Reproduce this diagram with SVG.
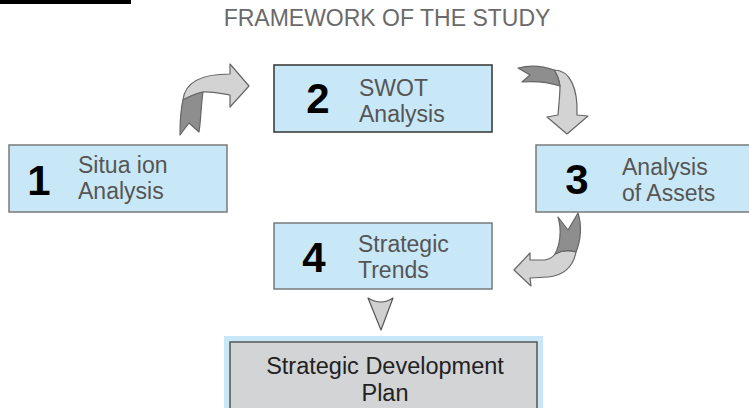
<svg xmlns="http://www.w3.org/2000/svg" width="749" height="408" viewBox="0 0 749 408">
<style>
.box{fill:#c9e8f7;stroke:#7a7a7a;stroke-width:1.5}
.box.dark{stroke:#333}
.num{font-family:"Liberation Sans",Arial,sans-serif;font-weight:bold;font-size:42px;fill:#000;text-anchor:middle}
.lbl{font-family:"Liberation Sans",Arial,sans-serif;font-size:23px;fill:#555}
.plan{font-family:"Liberation Sans",Arial,sans-serif;font-size:23.5px;fill:#222;text-anchor:middle}
.light{fill:#d3d3d3;stroke:#666;stroke-width:1.2;stroke-linejoin:round}
.shade{fill:#8e8e8e;stroke:#666;stroke-width:1.2;stroke-linejoin:round}
</style>
<rect width="749" height="408" fill="#fff"/>
<rect x="0" y="0" width="131" height="4" fill="#000"/>
<text x="387" y="26" text-anchor="middle" font-family="Liberation Sans, Arial, sans-serif" font-size="23" fill="#6a6a6a">FRAMEWORK OF THE STUDY</text>

<g id="node1">
<rect class="box" x="9" y="145" width="218" height="67"/>
<text class="num" x="39" y="195">1</text>
<text class="lbl" x="78" y="173">Situa ion</text>
<text class="lbl" x="78" y="199">Analysis</text>
</g>
<g id="node2">
<rect class="box dark" x="274" y="65" width="218" height="67"/>
<text class="num" x="318" y="113">2</text>
<text class="lbl" x="359" y="96">SWOT</text>
<text class="lbl" x="359" y="122">Analysis</text>
</g>
<g id="node3">
<rect class="box" x="536" y="145" width="224" height="67"/>
<text class="num" x="577" y="194">3</text>
<text class="lbl" x="622" y="175">Analysis</text>
<text class="lbl" x="622" y="201">of Assets</text>
</g>
<g id="node4">
<rect class="box" x="274" y="223" width="218" height="66"/>
<text class="num" x="314" y="272">4</text>
<text class="lbl" x="358" y="252">Strategic</text>
<text class="lbl" x="358" y="278">Trends</text>
</g>
<g id="plan">
<rect x="224" y="336" width="319" height="80" fill="#c9e8f7"/>
<rect x="230" y="342" width="307" height="74" fill="#d3d4d6" stroke="#555" stroke-width="1.5"/>
<text class="plan" x="385" y="374">Strategic Development</text>
<text class="plan" x="385" y="401">Plan</text>
</g>

<g id="connectors">
<g id="arrow1-2">
<path class="light" d="M183,100 C185,80 205,74 230,74 L230,64 L249,86 L230,107 L230,95 C218,93 208,91 203,92 C195,94 188,97 183,100 Z"/>
<path class="shade" d="M183,100 C188,97 195,94 203,92 C201,105 201,120 199,132 L189,123 L180,135 C180,120 181,108 183,100 Z"/>
</g>
<g id="arrow2-3">
<path class="light" d="M554,70 C570,70 578,88 577,115 L588,116 L567,134 L547,117 L558,115 C559,103 560,94 560,86 C559,80 557,74 554,70 Z"/>
<path class="shade" d="M518,68 C530,65 543,66 554,70 C557,74 559,80 560,86 C548,82 535,81 522,82 L530,75 Z"/>
</g>
<g id="arrow3-4">
<path class="light" d="M555,254 C562,250 570,250 576,252 C573,268 562,276 548,277 L530,278 L531,286 L514,270 L530,253 L530,260 L545,260 C550,259 553,257 555,254 Z"/>
<path class="shade" d="M558,217 L568,230 L578,213 C582,225 581,240 576,252 C570,250 562,250 555,254 C560,245 562,230 558,217 Z"/>
</g>
<path id="arrow4-plan" d="M368,298 Q381,306 393,298 L381,330 Z" fill="#d0d0d0" stroke="#555" stroke-width="1.2" stroke-linejoin="round"/>
</g>
</svg>
